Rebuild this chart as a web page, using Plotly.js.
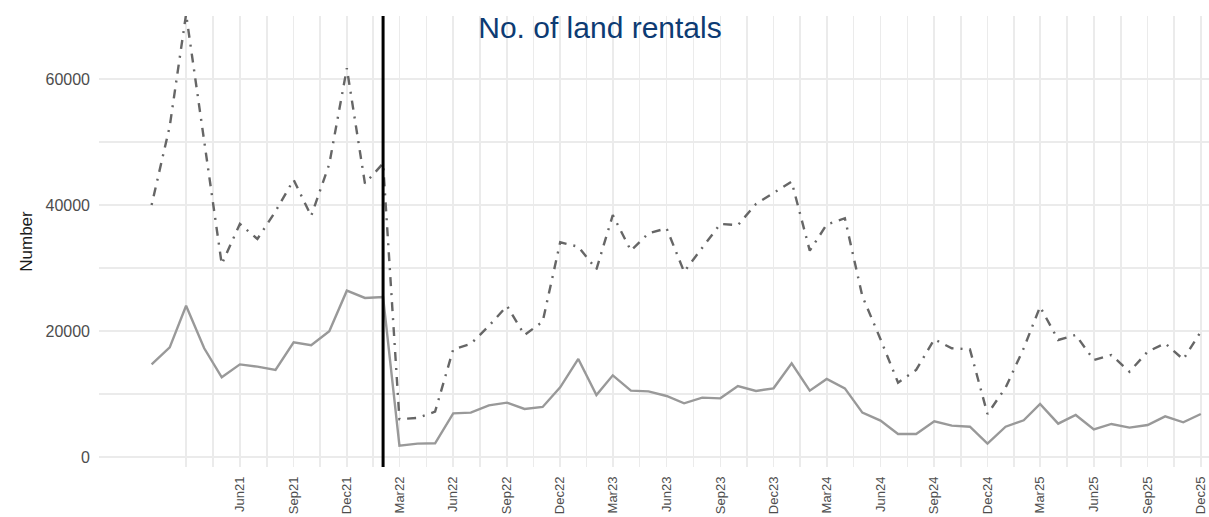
<!DOCTYPE html>
<html>
<head>
<meta charset="utf-8">
<script src="https://cdn.plot.ly/plotly-3.0.1.min.js"></script>
<style>html,body{margin:0;padding:0;background:#fff;}#chart{width:1209px;height:517px;}</style>
</head>
<body>
<div id="chart"></div>
<script>
// Months (first of month), Jan 2021 .. Dec 2025
const months = [
  "2021-01-01","2021-02-01","2021-03-01","2021-04-01","2021-05-01","2021-06-01","2021-07-01","2021-08-01","2021-09-01","2021-10-01","2021-11-01","2021-12-01",
  "2022-01-01","2022-02-01","2022-03-01","2022-04-01","2022-05-01","2022-06-01","2022-07-01","2022-08-01","2022-09-01","2022-10-01","2022-11-01","2022-12-01",
  "2023-01-01","2023-02-01","2023-03-01","2023-04-01","2023-05-01","2023-06-01","2023-07-01","2023-08-01","2023-09-01","2023-10-01","2023-11-01","2023-12-01",
  "2024-01-01","2024-02-01","2024-03-01","2024-04-01","2024-05-01","2024-06-01","2024-07-01","2024-08-01","2024-09-01","2024-10-01","2024-11-01","2024-12-01",
  "2025-01-01","2025-02-01","2025-03-01","2025-04-01","2025-05-01","2025-06-01","2025-07-01","2025-08-01","2025-09-01","2025-10-01","2025-11-01","2025-12-01"
];

// Solid grey series
const solidSeries = [
  14700, 17400, 24000, 17250, 12650, 14700, 14340, 13810, 18200, 17730, 19950, 26400,
  25240, 25400, 1800, 2120, 2170, 6930, 7040, 8200, 8620, 7620, 7940, 11060,
  15560, 9840, 12960, 10530, 10420, 9680, 8520, 9420, 9310, 11270, 10480, 10900,
  14870, 10530, 12380, 10900, 7040, 5770, 3650, 3650, 5660, 4970, 4810, 2120,
  4810, 5820, 8410, 5290, 6670, 4390, 5240, 4660, 5080, 6450, 5500, 6830
];

// Dash-dot dark grey series
const dashSeries = [
  40000, 52500, 70300, 49700, 30600, 37000, 34600, 39000, 44000, 38250, 46500, 61700,
  43400, 46600, 6000, 6200, 7200, 17090, 17940, 20800, 23970, 19370, 21480, 34080,
  33380, 29790, 38410, 32750, 35500, 36300, 29400, 33200, 37000, 36800, 40160, 41900,
  43700, 32750, 36900, 37900, 25500, 18700, 11800, 13810, 18680, 17250, 17090, 6830,
  11000, 17250, 23860, 18570, 19370, 15400, 16190, 13540, 16720, 18040, 15500, 19900
];

// Axis ticks
const xTickVals = [
  "2021-03-01","2021-06-01","2021-09-01","2021-12-01",
  "2022-03-01","2022-06-01","2022-09-01","2022-12-01",
  "2023-03-01","2023-06-01","2023-09-01","2023-12-01",
  "2024-03-01","2024-06-01","2024-09-01","2024-12-01",
  "2025-03-01","2025-06-01","2025-09-01","2025-12-01"
];
const xTickText = [
  "","Jun21","Sep21","Dec21",
  "Mar22","Jun22","Sep22","Dec22",
  "Mar23","Jun23","Sep23","Dec23",
  "Mar24","Jun24","Sep24","Dec24",
  "Mar25","Jun25","Sep25","Dec25"
];
const yTickVals = [0, 20000, 40000, 60000];
const yMinorVals = [10000, 30000, 50000, 70000];
const eventDate = "2022-02-01";

// minor x grid = midpoints between major ticks
const xMinorVals = [];
for (let i = 0; i < xTickVals.length - 1; i++) {
  const a = Date.parse(xTickVals[i] + "T00:00:00Z");
  const b = Date.parse(xTickVals[i + 1] + "T00:00:00Z");
  xMinorVals.push(new Date((a + b) / 2).toISOString().replace("T", " ").slice(0, 19));
}

const FONT = "Liberation Sans, Arial, Helvetica, sans-serif";
const GRID = "#ebebeb";

const traces = [
  {
    x: months, y: dashSeries, type: "scatter", mode: "lines", name: "Series 2",
    line: {color: "#666666", width: 2.4, dash: "2px,7px,9px,7px"},
    showlegend: false, hoverinfo: "x+y"
  },
  {
    x: months, y: solidSeries, type: "scatter", mode: "lines", name: "Series 1",
    line: {color: "#999999", width: 2.4},
    showlegend: false, hoverinfo: "x+y"
  }
];

const layout = {
  width: 1209, height: 517,
  margin: {l: 99, r: 0, t: 16, b: 50, pad: 0},
  paper_bgcolor: "#ffffff", plot_bgcolor: "#ffffff",
  font: {family: FONT, color: "#4d4d4d"},
  title: {
    text: "No. of land rentals",
    font: {family: FONT, size: 30, color: "#0d3b73"},
    x: 600 / 1209, xref: "container", xanchor: "center",
    y: 1 - 27.5 / 517, yref: "container", yanchor: "middle"
  },
  xaxis: {
    type: "date",
    range: ["2020-10-03", "2025-12-15"],
    tickmode: "array", tickvals: xTickVals, ticktext: xTickText,
    tickangle: -90, tickfont: {family: FONT, size: 13, color: "#4d4d4d"},
    ticks: "", showgrid: true, gridcolor: GRID, gridwidth: 1.6,
    minor: {tickmode: "array", tickvals: xMinorVals, showgrid: true, gridcolor: GRID, gridwidth: 1.6, ticks: ""},
    zeroline: false, showline: false, ticklabelstandoff: 6
  },
  yaxis: {
    range: [-1590, 70000],
    tickmode: "array", tickvals: yTickVals, tickformat: "d",
    tickfont: {family: FONT, size: 16, color: "#4d4d4d"},
    ticks: "", showgrid: true, gridcolor: GRID, gridwidth: 1.6,
    minor: {tickmode: "array", tickvals: yMinorVals, showgrid: true, gridcolor: GRID, gridwidth: 1.6, ticks: ""},
    zeroline: false, showline: false, ticklabelstandoff: 8,
    title: {text: "Number", font: {family: FONT, size: 17, color: "#1a1a1a"}, standoff: 8}
  },
  shapes: [
    {type: "line", xref: "x", yref: "paper", x0: eventDate, x1: eventDate, y0: 0, y1: 1,
     line: {color: "#000000", width: 3}}
  ]
};

Plotly.newPlot("chart", traces, layout, {displayModeBar: false, staticPlot: true});
</script>
</body>
</html>
